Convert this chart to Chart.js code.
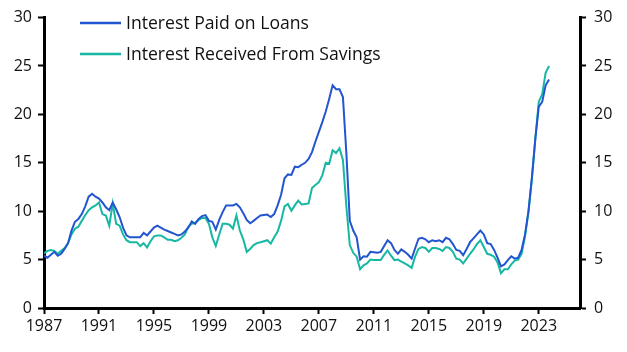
<!DOCTYPE html>
<html>
<head>
<meta charset="utf-8">
<script src="https://cdn.jsdelivr.net/npm/chart.js@4"></script>
<style>
  html, body { margin: 0; padding: 0; background: #fff; }
  #wrap { width: 627px; height: 352px; }
</style>
</head>
<body>
<div id="wrap"><canvas id="chart"></canvas></div>
<script>
// quarterly series, first point = 1987 Q1
const startYear = 1987;

const paidOnLoans = [
  5.4, 5.2, 5.5, 5.8,
  5.4, 5.6, 6.1, 6.7,
  8.0, 8.9, 9.2, 9.7,
  10.5, 11.5, 11.8, 11.5,
  11.3, 10.9, 10.4, 10.1,
  10.9, 10.2, 9.4, 8.3,
  7.5, 7.3, 7.3, 7.3,
  7.3, 7.75, 7.5, 7.9,
  8.3, 8.5, 8.3, 8.1,
  7.95, 7.8, 7.65, 7.5,
  7.6, 7.9, 8.3, 8.95,
  8.7, 9.2, 9.5, 9.6,
  9.0, 8.9, 8.1, 9.1,
  9.9, 10.6, 10.6, 10.6,
  10.75, 10.4, 9.8, 9.1,
  8.75, 9.0, 9.3, 9.55,
  9.6, 9.65, 9.4, 9.7,
  10.6, 11.7, 13.4, 13.8,
  13.75, 14.6, 14.55, 14.8,
  15.0, 15.4, 16.1, 17.2,
  18.2, 19.2, 20.3, 21.6,
  23.0, 22.6, 22.6, 21.8,
  16.0, 9.0, 8.0, 7.3,
  5.0, 5.35, 5.3, 5.8,
  5.75, 5.7, 5.8, 6.4,
  7.0, 6.7, 6.0, 5.6,
  6.05, 5.8, 5.5, 5.1,
  6.15, 7.15, 7.25, 7.1,
  6.8, 7.0, 6.9, 7.0,
  6.8, 7.25, 7.1, 6.6,
  6.0, 5.9, 5.45, 6.1,
  6.8, 7.2, 7.6, 8.0,
  7.6, 6.7, 6.6, 6.0,
  5.2, 4.3, 4.5, 4.95,
  5.35, 5.1, 5.2, 6.0,
  7.6, 10.0, 13.5, 17.5,
  20.8, 21.3, 23.0, 23.6
];

const receivedFromSavings = [
  5.65, 5.9, 6.0, 5.9,
  5.6, 5.9, 6.2, 6.7,
  7.6, 8.2, 8.4, 9.0,
  9.6, 10.1, 10.4, 10.6,
  10.9, 9.7, 9.55, 8.5,
  10.8, 8.7, 8.5, 7.6,
  7.0, 6.8, 6.8, 6.8,
  6.4, 6.7, 6.25, 6.9,
  7.4, 7.5, 7.5, 7.3,
  7.05, 7.05, 6.9, 7.0,
  7.25, 7.6, 8.4, 8.7,
  8.8, 9.1, 9.3, 9.3,
  8.7, 7.3, 6.4, 7.6,
  8.7, 8.7, 8.6, 8.2,
  9.55, 8.0, 7.1, 5.8,
  6.1, 6.5, 6.7, 6.8,
  6.9, 7.0, 6.65, 7.3,
  7.9, 9.0, 10.5, 10.75,
  10.05, 10.6, 11.1, 10.7,
  10.75, 10.8, 12.4, 12.7,
  13.0, 13.7, 15.0, 14.9,
  16.3, 16.0, 16.5, 15.3,
  10.5, 6.5, 5.7, 5.3,
  4.0, 4.4, 4.6, 5.0,
  4.95, 4.95, 4.95, 5.5,
  5.95, 5.4, 4.95, 5.0,
  4.8, 4.6, 4.4, 4.15,
  5.3, 6.1, 6.3, 6.2,
  5.8, 6.2, 6.2, 6.1,
  5.9, 6.3, 6.2, 5.8,
  5.1, 5.0, 4.6, 5.1,
  5.6, 6.05, 6.6, 7.0,
  6.3, 5.6, 5.5, 5.3,
  4.7, 3.6, 4.0, 4.0,
  4.5, 4.9, 5.0, 5.6,
  7.4, 9.9, 13.3, 17.5,
  21.3, 22.1, 24.3, 25.0
];

const seriesLabels = ['Interest Paid on Loans', 'Interest Received From Savings'];
const xTickYears = [1987, 1991, 1995, 1999, 2003, 2007, 2011, 2015, 2019, 2023];
const yMin = 0, yMax = 30, yStep = 5;
const xMin = 1987, xMax = 2026;

const toPoints = arr => arr.map((v, i) => ({ x: startYear + i / 4, y: v }));

const FONT = '"Open Sans", sans-serif';

// legend drawn inside the plot, top-left
const insideLegend = {
  id: 'insideLegend',
  afterDraw(chart) {
    const ctx = chart.ctx;
    ctx.save();
    ctx.font = '17.6px ' + FONT;
    ctx.textBaseline = 'middle';
    chart.data.datasets.forEach((ds, i) => {
      const y = 23 + i * 31;
      ctx.strokeStyle = ds.borderColor;
      ctx.lineWidth = 2.5;
      ctx.beginPath();
      ctx.moveTo(80, y);
      ctx.lineTo(121, y);
      ctx.stroke();
      ctx.fillStyle = '#111';
      ctx.fillText(ds.label, 126, y + 1);
    });
    ctx.restore();
  }
};

const axisLine = { color: '#000', width: 3 };
const tickGrid = { display: true, drawOnChartArea: false, drawTicks: true, tickLength: 6, tickColor: '#000', tickWidth: 2 };
const tickFont = { family: FONT, size: 16 };

new Chart(document.getElementById('chart').getContext('2d'), {
  type: 'line',
  data: {
    datasets: [{
      label: seriesLabels[0],
      data: toPoints(paidOnLoans),
      borderColor: '#2255cf',
      borderWidth: 2,
      pointRadius: 0,
      tension: 0,
      yAxisID: 'y'
    }, {
      label: seriesLabels[1],
      data: toPoints(receivedFromSavings),
      borderColor: '#16b8a3',
      borderWidth: 2,
      pointRadius: 0,
      tension: 0,
      yAxisID: 'y'
    }]
  },
  options: {
    responsive: true,
    maintainAspectRatio: false,
    animation: false,
    layout: { padding: { top: 15, left: 0, right: 0, bottom: 0 } },
    plugins: {
      legend: { display: false },
      tooltip: { enabled: false }
    },
    scales: {
      x: {
        type: 'linear',
        min: xMin,
        max: xMax,
        border: axisLine,
        grid: tickGrid,
        afterBuildTicks: s => { s.ticks = xTickYears.map(v => ({ value: v })); },
        afterFit: s => { s.height = 44; },
        ticks: {
          color: '#111',
          font: tickFont,
          maxRotation: 0,
          padding: 3,
          callback: v => String(v)
        }
      },
      y: {
        position: 'left',
        min: yMin,
        max: yMax,
        border: axisLine,
        grid: tickGrid,
        afterFit: s => { s.width = 44; },
        ticks: { stepSize: yStep, color: '#111', font: tickFont, padding: 6 }
      },
      y2: {
        position: 'right',
        min: yMin,
        max: yMax,
        border: axisLine,
        grid: tickGrid,
        afterFit: s => { s.width = 47; },
        ticks: { stepSize: yStep, color: '#111', font: tickFont, padding: 8 }
      }
    }
  },
  plugins: [insideLegend]
});
</script>
</body>
</html>
